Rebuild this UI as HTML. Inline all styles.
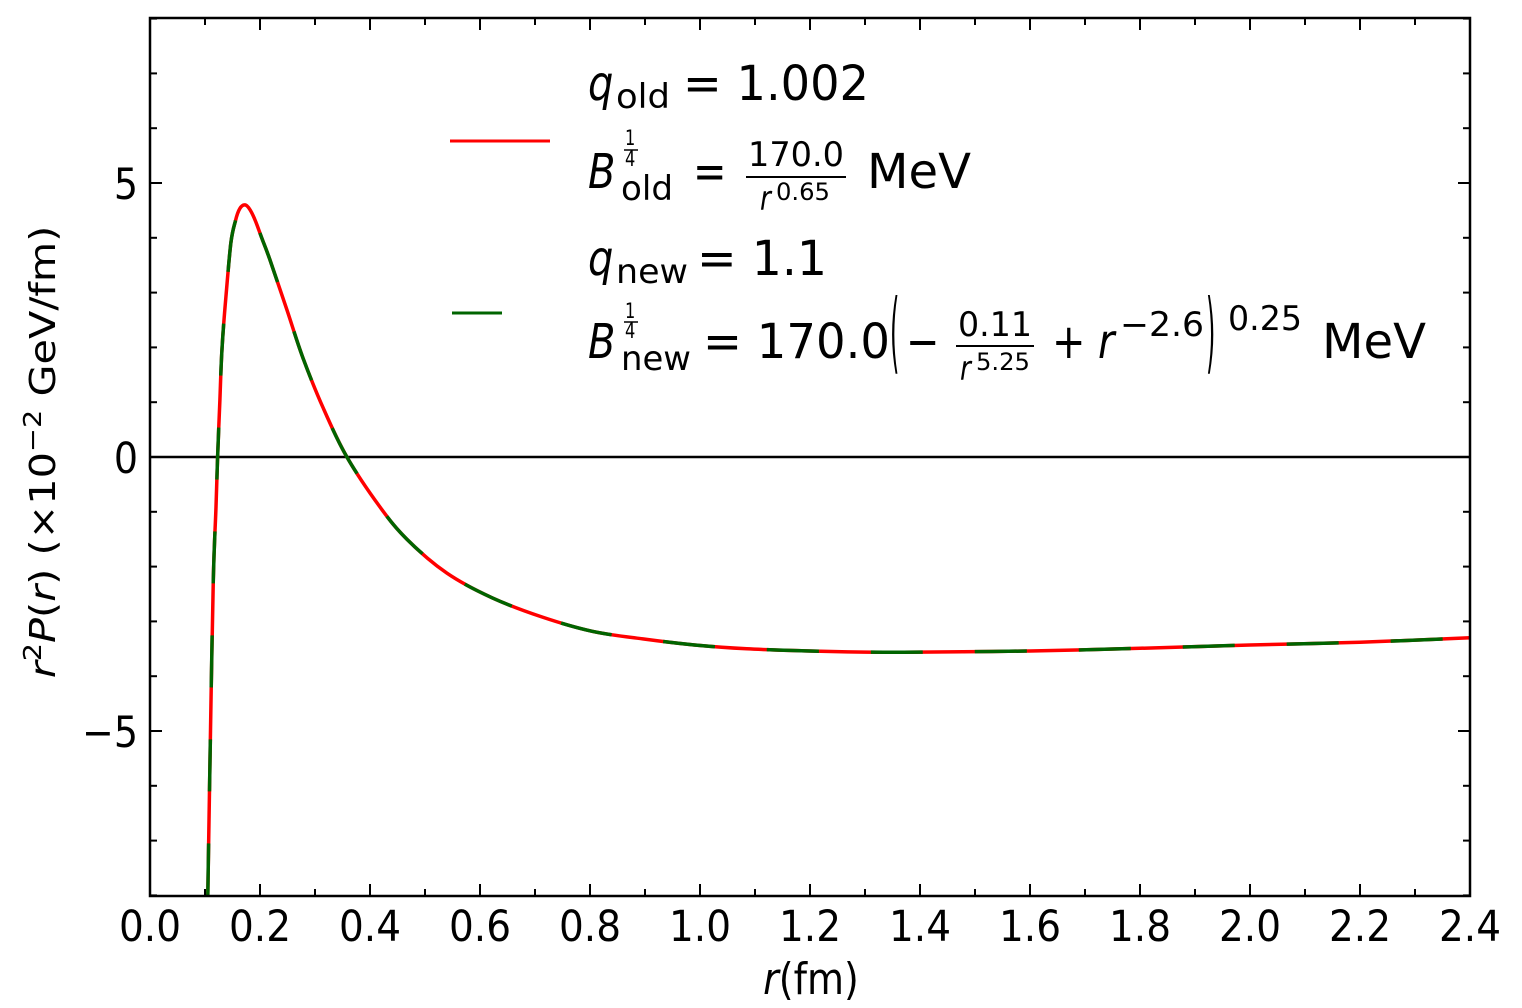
<!DOCTYPE html>
<html><head><meta charset="utf-8"><style>
html,body{margin:0;padding:0;background:#fff;}
svg{display:block;font-family:"DejaVu Sans","Liberation Sans",sans-serif;}
</style></head><body>
<svg id="chart" width="1522" height="1008" viewBox="0 0 1522 1008">
<g id="ticks"></g>
<g id="labels"></g>
<line x1="150" y1="457" x2="1470" y2="457" stroke="#000" stroke-width="2.5"/>
<g id="series"></g>
<rect x="150" y="18" width="1320" height="878" fill="none" stroke="#000" stroke-width="2.5"/>
<text transform="translate(811,994) scale(1,1.15)" font-size="38" text-anchor="middle"><tspan font-style="italic">r</tspan>(fm)</text>
<text transform="translate(55,452) rotate(-90) scale(1.15,1)" font-size="36" text-anchor="middle"><tspan font-style="italic">r</tspan><tspan font-size="25" dy="-14">2</tspan><tspan font-style="italic" dy="14">P</tspan>(<tspan font-style="italic">r</tspan>) (×10<tspan font-size="25" dy="-14">−2</tspan><tspan dy="14"> GeV/fm)</tspan></text>
<g>
<line x1="450" y1="141" x2="550" y2="141" stroke="#ff0000" stroke-width="3"/>
<line x1="452" y1="313" x2="502" y2="313" stroke="#006400" stroke-width="3"/>
<g>
<text transform="translate(588,100) scale(1,1.2)" font-size="40" font-style="italic">q</text>
<text transform="translate(616,108) scale(1,1.2)" font-size="28" textLength="54" lengthAdjust="spacingAndGlyphs">old</text>
<text transform="translate(683,100) scale(1,1.2)" font-size="40" textLength="186" lengthAdjust="spacingAndGlyphs">= 1.002</text>
<text transform="translate(588,188) scale(1,1.2)" font-size="40" font-style="italic">B</text>
<text transform="translate(625,145) scale(0.9,1.2)" font-size="18">1</text>
<line x1="624" y1="150" x2="638" y2="150" stroke="#000" stroke-width="1.5"/>
<text transform="translate(625,166) scale(0.9,1.2)" font-size="18">4</text>
<text transform="translate(621,200) scale(1,1.2)" font-size="28" textLength="52" lengthAdjust="spacingAndGlyphs">old</text>
<text transform="translate(693,188) scale(1,1.2)" font-size="40">=</text>
<text transform="translate(748,166) scale(1,1.2)" font-size="28" textLength="96" lengthAdjust="spacingAndGlyphs">170.0</text>
<line x1="746" y1="177" x2="846" y2="177" stroke="#000" stroke-width="2"/>
<text transform="translate(760,210) scale(0.95,1.2)" font-size="28" font-style="italic">r</text>
<text transform="translate(776,200) scale(1,1.2)" font-size="20" textLength="54" lengthAdjust="spacingAndGlyphs">0.65</text>
<text transform="translate(867,188) scale(1,1.2)" font-size="40" textLength="104" lengthAdjust="spacingAndGlyphs">MeV</text>
</g>
<g>
<text transform="translate(588,275) scale(1,1.2)" font-size="40" font-style="italic">q</text>
<text transform="translate(616,283) scale(1,1.2)" font-size="28" textLength="72" lengthAdjust="spacingAndGlyphs">new</text>
<text transform="translate(697,275) scale(1,1.2)" font-size="40" textLength="130" lengthAdjust="spacingAndGlyphs">= 1.1</text>
<text transform="translate(588,358) scale(1,1.2)" font-size="40" font-style="italic">B</text>
<text transform="translate(625,318) scale(0.9,1.2)" font-size="18">1</text>
<line x1="624" y1="322" x2="638" y2="322" stroke="#000" stroke-width="1.5"/>
<text transform="translate(625,338) scale(0.9,1.2)" font-size="18">4</text>
<text transform="translate(621,370) scale(1,1.2)" font-size="28" textLength="70" lengthAdjust="spacingAndGlyphs">new</text>
<text transform="translate(703,358) scale(1,1.2)" font-size="40" textLength="187" lengthAdjust="spacingAndGlyphs">= 170.0</text>
<text transform="translate(890,362) scale(0.6,2.2)" font-size="40">(</text>
<text transform="translate(906,358) scale(1,1.2)" font-size="40">−</text>
<text transform="translate(958,336) scale(1,1.2)" font-size="28" textLength="74" lengthAdjust="spacingAndGlyphs">0.11</text>
<line x1="956" y1="346" x2="1034" y2="346" stroke="#000" stroke-width="2"/>
<text transform="translate(960,380) scale(0.95,1.2)" font-size="28" font-style="italic">r</text>
<text transform="translate(976,370) scale(1,1.2)" font-size="20" textLength="54" lengthAdjust="spacingAndGlyphs">5.25</text>
<text transform="translate(1052,358) scale(1,1.2)" font-size="40">+</text>
<text transform="translate(1098,358) scale(1,1.2)" font-size="40" font-style="italic">r</text>
<text transform="translate(1120,336) scale(1,1.2)" font-size="28" textLength="84" lengthAdjust="spacingAndGlyphs">−2.6</text>
<text transform="translate(1206,362) scale(0.6,2.2)" font-size="40">)</text>
<text transform="translate(1228,330) scale(1,1.2)" font-size="28" textLength="74" lengthAdjust="spacingAndGlyphs">0.25</text>
<text transform="translate(1322,358) scale(1,1.2)" font-size="40" textLength="104" lengthAdjust="spacingAndGlyphs">MeV</text>
</g>
</g>
</svg>
<script>
const rValues = [0.105,0.110,0.115,0.120,0.123,0.127,0.131,0.138,0.147,0.155,0.163,0.173,0.182,0.192,0.203,0.218,0.249,0.278,0.315,0.358,0.418,0.467,0.540,0.622,0.713,0.804,0.896,0.990,1.085,1.200,1.300,1.400,1.600,1.800,2.000,2.200,2.400];
const pValues = [-8.0,-5.0,-2.24,-0.91,0.0,1.04,2.0,2.92,3.9,4.3,4.53,4.6,4.51,4.3,4.0,3.6,2.68,1.81,0.89,0.0,-0.91,-1.50,-2.12,-2.57,-2.92,-3.18,-3.32,-3.43,-3.50,-3.54,-3.56,-3.56,-3.54,-3.49,-3.43,-3.38,-3.30];
const xTicks = [0.0,0.2,0.4,0.6,0.8,1.0,1.2,1.4,1.6,1.8,2.0,2.2,2.4];
const yTicks = [-5,0,5];
const L=150,R=1470,T=18,B=896,Y0=457;
function sx(v){return L+v*(R-L)/2.4;}
function sy(v){return Y0-v*54.8;}
const NS="http://www.w3.org/2000/svg";
const tg=document.getElementById('ticks'), lg=document.getElementById('labels'), sg=document.getElementById('series');
function ln(g,x1,y1,x2,y2,w){const e=document.createElementNS(NS,'line');e.setAttribute('x1',x1);e.setAttribute('y1',y1);e.setAttribute('x2',x2);e.setAttribute('y2',y2);e.setAttribute('stroke','#000');e.setAttribute('stroke-width',w);g.appendChild(e);return e;}
for(let i=0;i<=24;i++){const v=i*0.1;const x=sx(v);const len=(i%2===0)?12:7;
 const t1=ln(tg,x,B,x,B-len,2);
 
 
 const t2=ln(tg,x,T,x,T+len,2);
 
 }
for(let v=-8;v<=8;v++){const y=sy(v);const len=(v%5===0)?12:7;
 const t1=ln(tg,L,y,L+len,y,2);
 
 
 const t2=ln(tg,R,y,R-len,y,2);
 
 }
xTicks.forEach(v=>{const t=document.createElementNS(NS,'text');
 t.setAttribute('transform','translate('+sx(v)+',941) scale(1,1.12)');
 t.setAttribute('font-size','38');t.setAttribute('text-anchor','middle');
 t.setAttribute('textLength','62');
 t.setAttribute('lengthAdjust','spacingAndGlyphs');
 t.textContent=v.toFixed(1);
 
 
 lg.appendChild(t);});
yTicks.forEach(v=>{const t=document.createElementNS(NS,'text');
 t.setAttribute('transform','translate(138,'+(sy(v)+16)+') scale(1,1.12)');
 t.setAttribute('font-size','38');t.setAttribute('text-anchor','end');
 t.textContent=v<0?'−'+Math.abs(v):String(v);
 
 
 lg.appendChild(t);});
const P=rValues.map((r,i)=>[sx(r),sy(pValues[i])]);
let d='M'+P[0][0].toFixed(1)+','+P[0][1].toFixed(1);
for(let i=0;i<P.length-1;i++){const p0=P[Math.max(0,i-1)],p1=P[i],p2=P[i+1],p3=P[Math.min(P.length-1,i+2)];
 const c1=[p1[0]+(p2[0]-p0[0])/6,p1[1]+(p2[1]-p0[1])/6];
 const c2=[p2[0]-(p3[0]-p1[0])/6,p2[1]-(p3[1]-p1[1])/6];
 d+='C'+c1[0].toFixed(1)+','+c1[1].toFixed(1)+' '+c2[0].toFixed(1)+','+c2[1].toFixed(1)+' '+p2[0].toFixed(1)+','+p2[1].toFixed(1);}
const red=document.createElementNS(NS,'path');
red.setAttribute('d',d);red.setAttribute('fill','none');red.setAttribute('stroke','#ff0000');red.setAttribute('stroke-width','3.5');red.setAttribute('stroke-linejoin','round');


sg.appendChild(red);
const grn=document.createElementNS(NS,'path');
grn.setAttribute('d',d);grn.setAttribute('fill','none');grn.setAttribute('stroke','#006400');grn.setAttribute('stroke-width','3.5');grn.setAttribute('stroke-dasharray','52 52');


sg.appendChild(grn);
</script>
</body></html>
